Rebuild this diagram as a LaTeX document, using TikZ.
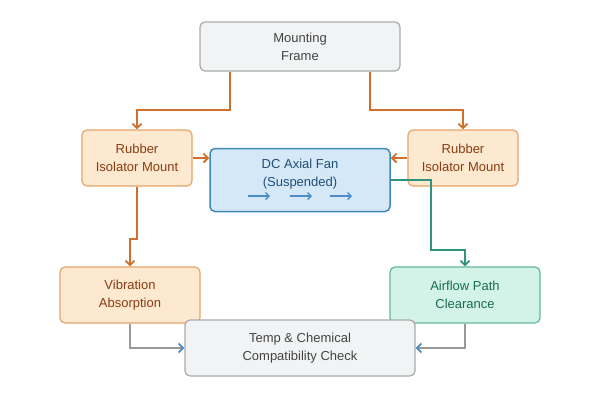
\documentclass[tikz,border=0pt]{standalone}
\usepackage{fontspec}
\setmainfont{Liberation Sans}
\usetikzlibrary{arrows.meta}

\definecolor{mountfill}{HTML}{FDE9D0}
\definecolor{mountdraw}{HTML}{E3A569}
\definecolor{mounttext}{HTML}{8A3B10}
\definecolor{fanfill}{HTML}{D5E8F7}
\definecolor{fandraw}{HTML}{3F88B8}
\definecolor{fantext}{HTML}{1F4E79}
\definecolor{airfill}{HTML}{D3F2E8}
\definecolor{airdraw}{HTML}{63B89C}
\definecolor{airtext}{HTML}{1B6A55}
\definecolor{greyfill}{HTML}{F1F3F4}
\definecolor{greydraw}{HTML}{AAAAAA}
\definecolor{greytext}{HTML}{444444}
\definecolor{linkorange}{HTML}{D0702C}
\definecolor{linkteal}{HTML}{2E9480}
\definecolor{linkgrey}{HTML}{999999}
\definecolor{tipblue}{HTML}{4A8CC4}

\begin{document}
\begin{tikzpicture}[
        x = 1pt, y = -1pt,
        box/.style = {
            draw, line width = 1.2pt,
            rounded corners = 5pt,
            align = center,
            inner sep = 0pt,
            font = \fontsize{13}{18}\selectfont,
        },
        mount/.style = {box, fill = mountfill, draw = mountdraw, text = mounttext},
        grey/.style  = {box, fill = greyfill, draw = greydraw, text = greytext},
        link/.style  = {line width = 1.8pt, -{Straight Barb[length=4.5pt,width=9pt]}},
    ]
    \useasboundingbox (0,0) rectangle (600,400);

    \node[grey,minimum width=200pt,minimum height=49pt] (frame) at (300, 46.5) {Mounting\\Frame};

    \node[mount,minimum width=110pt,minimum height=56pt] (rubL) at (137, 158) {Rubber\\Isolator Mount};
    \node[mount,minimum width=110pt,minimum height=56pt] (rubR) at (463, 158) {Rubber\\Isolator Mount};

    \node[box,fill=fanfill,draw=fandraw,line width=1.5pt,minimum width=180pt,minimum height=63pt] (fan) at (300, 180) {};
    \node[font=\fontsize{13}{18}\selectfont,text=fantext,align=center] (fanlabel) at (300, 174) {DC Axial Fan\\(Suspended)};
    \foreach \dx in {-52, -10, 30}
        \draw[line width=1.4pt,tipblue,-{Straight Barb[length=3.5pt,width=7pt]}]
            ([xshift=\dx pt, yshift=-16pt]fan.center) -- ++(22, 0);

    \node[mount,minimum width=140pt,minimum height=56pt] (vib) at (130, 295) {Vibration\\Absorption};
    \node[box,fill=airfill,draw=airdraw,text=airtext,minimum width=150pt,minimum height=56pt] (air) at (465, 295) {Airflow Path\\Clearance};

    \node[grey,minimum width=230pt,minimum height=56pt] (temp) at (300, 348) {Temp \& Chemical\\Compatibility Check};

    % frame to the two mounts
    \draw[link,linkorange] ([xshift=-70pt]frame.south) -- ++(0, 38) -| (rubL.north);
    \draw[link,linkorange] ([xshift=70pt]frame.south) -- ++(0, 38) -| (rubR.north);

    % mounts hold the fan
    \draw[link,linkorange] (rubL.east) -- (fan.west |- rubL.east);
    \draw[link,linkorange] (rubR.west) -- (fan.east |- rubR.west);

    \draw[link,linkorange] (rubL.south) -- ++(0, 52) -| (vib.north);
    \draw[link,linkteal] (fan.east) -- ++(40, 0) -- ++(0, 70) -| (air.north);

    % both checks go to the bottom box
    \draw[link,linkgrey,-{Straight Barb[length=4.5pt,width=9pt,color=tipblue]}] (vib.south) |- (temp.west);
    \draw[link,linkgrey,-{Straight Barb[length=4.5pt,width=9pt,color=tipblue]}] (air.south) |- (temp.east);
\end{tikzpicture}
\end{document}
